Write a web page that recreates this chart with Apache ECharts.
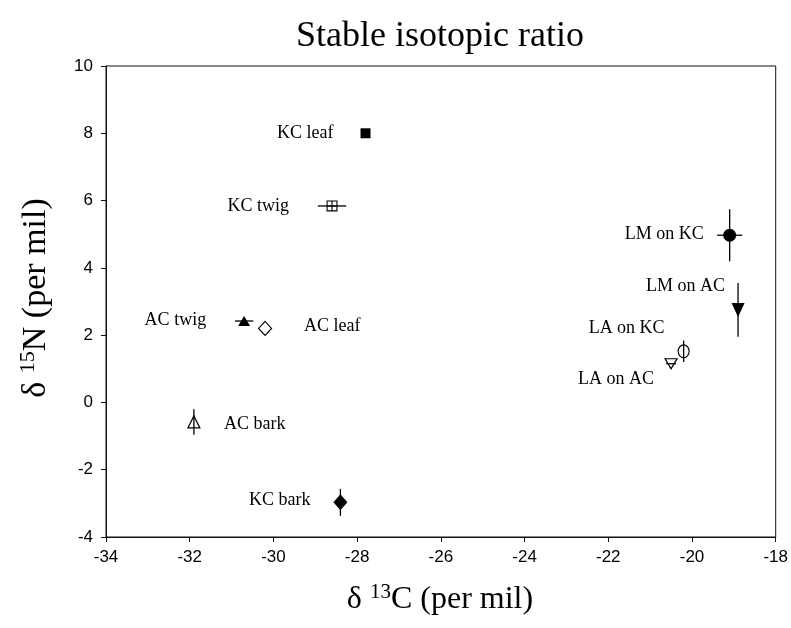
<!DOCTYPE html>
<html>
<head>
<meta charset="utf-8">
<script src="https://cdn.jsdelivr.net/npm/echarts@6/dist/echarts.min.js"></script>
<style>html,body{margin:0;padding:0;background:#fff}#c{width:791px;height:628px}</style>
</head>
<body>
<div id="c"></div>
<script>
// ---- data ----
var names = ['KC leaf', 'KC twig', 'AC twig', 'AC leaf', 'AC bark', 'KC bark', 'LM on KC', 'LM on AC', 'LA on KC', 'LA on AC'];
var d13C  = [-27.8, -28.6, -30.7, -30.2, -31.9, -28.4, -19.1, -18.9, -20.2, -20.5];
var d15N  = [8.0, 5.84, 2.42, 2.2, -0.58, -2.97, 4.97, 2.75, 1.52, 1.15];
var errC  = [0, 0.34, 0.22, 0, 0, 0, 0.3, 0, 0, 0.12];
var errN  = [0, 0, 0, 0, 0.38, 0.4, 0.77, 0.8, 0.32, 0];
var xTicks = {min: -34, max: -18, interval: 2};
var yTicks = {min: -4, max: 10, interval: 2};

// ---- styling (kept apart from the data) ----
var DOWN = 'path://M0,0L10,0L5,10Z';
var BOXCROSS = 'path://M0,0H10V10H0Z M1,1V4.5H4.5V1Z M5.5,1V4.5H9V1Z M1,5.5V9H4.5V5.5Z M5.5,5.5V9H9V5.5Z';
var filled = {color: '#000', opacity: 1};
var open = {color: '#fff', borderColor: '#000', borderWidth: 1.2, opacity: 1};
var markStyle = {
  'KC leaf':  {symbol: 'rect', size: 10, item: filled, lab: ['right', -32, 0]},
  'KC twig':  {symbol: BOXCROSS, size: 11, item: filled, lab: ['right', -43, 0]},
  'AC twig':  {symbol: 'triangle', size: [12, 10], item: filled, lab: ['right', -38, -1]},
  'AC leaf':  {symbol: 'diamond', size: [13, 14], item: open, lab: ['left', 39, -2]},
  'AC bark':  {symbol: 'triangle', size: [12, 12], item: open, lab: ['left', 30, 2]},
  'KC bark':  {symbol: 'diamond', size: [14, 16], item: filled, lab: ['right', -30, -2]},
  'LM on KC': {symbol: 'circle', size: 13, item: filled, lab: ['right', -26, -1]},
  'LM on AC': {symbol: DOWN, size: [13, 14], item: filled, lab: ['right', -13, -24]},
  'LA on KC': {symbol: 'circle', size: [11, 13], item: open, lab: ['right', -19, -23]},
  'LA on AC': {symbol: DOWN, size: [12, 10], item: open, lab: ['right', -17, 16]}
};

var scatterData = names.map(function (n, i) {
  var s = markStyle[n];
  return {
    name: n,
    value: [d13C[i], d15N[i]],
    symbol: s.symbol,
    symbolSize: s.size,
    itemStyle: s.item,
    label: {
      show: true, formatter: n, position: 'inside',
      align: s.lab[0], verticalAlign: 'middle', offset: [s.lab[1], s.lab[2]],
      fontFamily: 'Liberation Serif', fontSize: 18, color: '#000', opacity: 1,
      textBorderWidth: 0, textShadowBlur: 0
    }
  };
});
var errData = names.map(function (n, i) { return [d13C[i], d15N[i], errC[i], errN[i]]; });

var chart = echarts.init(document.getElementById('c'), null, {renderer: 'canvas'});
var axisCommon = {
  type: 'value',
  axisLine: {show: true, onZero: false, lineStyle: {color: '#111', width: 1}},
  axisTick: {show: true, inside: false, length: 5, lineStyle: {color: '#111'}},
  splitLine: {show: false},
  axisLabel: {color: '#000', fontFamily: 'Liberation Sans', fontSize: 17}
};
chart.setOption({
  animation: false,
  backgroundColor: '#fff',
  grid: {left: 106, right: 13, top: 66, bottom: 91, show: true, borderColor: '#111', borderWidth: 1},
  xAxis: Object.assign({}, axisCommon, {min: xTicks.min, max: xTicks.max, interval: xTicks.interval,
    axisLabel: Object.assign({}, axisCommon.axisLabel, {margin: 12})}),
  yAxis: Object.assign({}, axisCommon, {min: yTicks.min, max: yTicks.max, interval: yTicks.interval,
    axisLabel: Object.assign({}, axisCommon.axisLabel, {margin: 13})}),
  graphic: [
    {type: 'text', x: 440, y: 37, style: {text: 'Stable isotopic ratio', align: 'center', verticalAlign: 'middle',
      font: '36px "Liberation Serif"', fill: '#000'}},
    {type: 'text', x: 440, y: 600, style: {text: '{a|δ }{s|13}{a|C (per mil)}', align: 'center', verticalAlign: 'middle',
      fill: '#000', rich: {a: {fontFamily: 'Liberation Serif', fontSize: 32, lineHeight: 36},
                           s: {fontFamily: 'Liberation Serif', fontSize: 21, verticalAlign: 'top', lineHeight: 26}}}},
    {type: 'text', x: 36, y: 298, rotation: Math.PI / 2, style: {text: '{a|δ }{s|15}{a|N (per mil)}', align: 'center', verticalAlign: 'middle',
      fill: '#000', rich: {a: {fontFamily: 'Liberation Serif', fontSize: 34, lineHeight: 38},
                           s: {fontFamily: 'Liberation Serif', fontSize: 22, verticalAlign: 'top', lineHeight: 26}}}}
  ],
  series: [
    {
      type: 'scatter',
      data: scatterData,
      itemStyle: {opacity: 1},
      z: 2
    },
    {
      type: 'custom',
      z: 3,
      data: errData,
      renderItem: function (params, api) {
        var x = api.value(0), y = api.value(1), ex = api.value(2), ey = api.value(3);
        var kids = [];
        var st = {stroke: '#000', lineWidth: 1.3};
        if (ex > 0) {
          var a = api.coord([x - ex, y]), b = api.coord([x + ex, y]);
          kids.push({type: 'line', shape: {x1: a[0], y1: a[1], x2: b[0], y2: b[1]}, style: st});
        }
        if (ey > 0) {
          var c = api.coord([x, y - ey]), d = api.coord([x, y + ey]);
          kids.push({type: 'line', shape: {x1: c[0], y1: c[1], x2: d[0], y2: d[1]}, style: st});
        }
        return {type: 'group', children: kids};
      }
    }
  ]
});
</script>
</body>
</html>
